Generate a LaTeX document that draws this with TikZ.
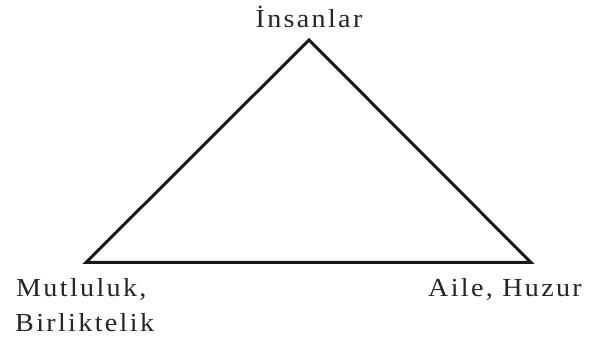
\documentclass[tikz,border=0pt]{standalone}
\usepackage{fontspec}
\setmainfont{Liberation Serif}[FakeStretch=1.08,LetterSpace=9]
\begin{document}
\begin{tikzpicture}[x=1pt,y=1pt,
  lbl/.style={inner sep=0pt,font=\fontsize{26}{35}\selectfont,text=black!85},
  edge/.style={line width=3pt,line join=miter,draw=black!90}]
\useasboundingbox (0,0) rectangle (589,347);
\coordinate (A) at (309,307);
\coordinate (B) at (86,84.5);
\coordinate (C) at (531,84.5);
\draw[edge] (A) -- (B) -- (C) -- cycle;
\node[lbl,anchor=base] (top) at (309,319) {İnsanlar};
\node[lbl,anchor=base west] (left1) at (16,50) {Mutluluk,};
\node[lbl,anchor=base west] (left2) at (15,15) {Birliktelik};
\node[lbl,anchor=base west] (right) at (428,50) {Aile, Huzur};
\end{tikzpicture}
\end{document}
